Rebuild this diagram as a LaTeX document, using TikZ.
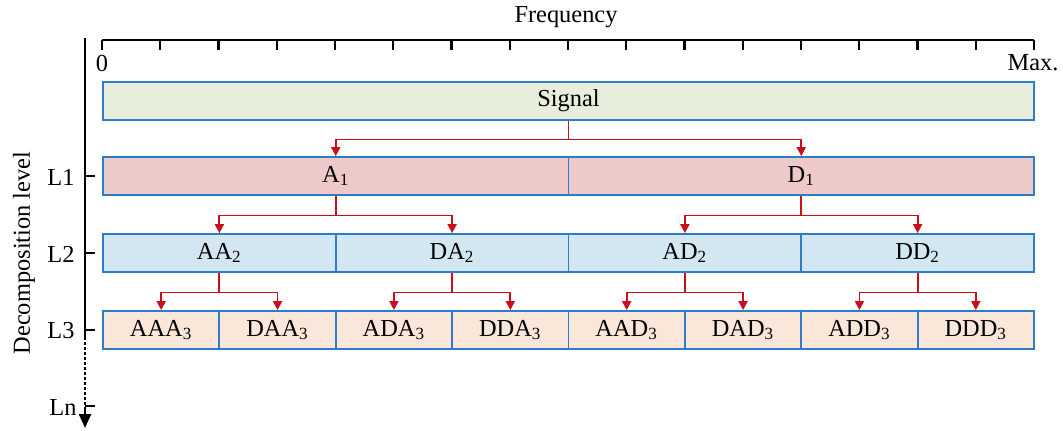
\documentclass[tikz,border=0pt]{standalone}
\usepackage{fontspec}
\setmainfont{Liberation Serif}
\usetikzlibrary{arrows.meta}
\definecolor{bordc}{HTML}{2E7DCB}
\definecolor{sigc}{HTML}{E7EEDB}
\definecolor{lonec}{HTML}{EEC9C9}
\definecolor{ltwoc}{HTML}{D2E7F1}
\definecolor{lthreec}{HTML}{FBE7D9}
\definecolor{arrc}{HTML}{C8101A}
\tikzset{
  band/.style={draw=bordc, line width=0.9pt, rectangle, inner sep=0pt, minimum height=19pt, anchor=center},
  sigbox/.style={band, fill=sigc, minimum width=465.5pt},
  onebox/.style={band, fill=lonec, minimum width=232.75pt},
  twobox/.style={band, fill=ltwoc, minimum width=116.375pt},
  threebox/.style={band, fill=lthreec, minimum width=58.1875pt},
  link/.style={draw=arrc, line width=0.9pt},
  arr/.style={link, -{Triangle[length=4.5pt,width=4.5pt]}},
  axisline/.style={line width=1.1pt, black},
  lvl/.style={anchor=east, inner sep=0pt},
}
\begin{document}
\begin{tikzpicture}[x=0.5pt,y=-0.5pt,font=\fontsize{12.2}{14}\selectfont]
\useasboundingbox (0,0) rectangle (1063,430);
% frequency axis
\node (freq) at (566,17) {Frequency};
\draw[axisline] (102,40) -- (1034,40);
\foreach \k in {0,...,16} {
  \draw[axisline] ({102+\k*58.25},40) -- ({102+\k*58.25},50);
}
\node (zero) at (102,63) {0};
\node (max) at (1033,63) {Max.};
% level axis
\draw[axisline] (85,38) -- (85,337);
\draw[axisline, dash pattern=on 1.5pt off 1pt] (85,337) -- (85,412);
\coordinate (ltop) at (85,410);
\coordinate (lend) at (85,428);
\draw[axisline, -{Triangle[length=7pt,width=6pt]}] (ltop) -- (lend);
\foreach \yy in {176,253,330,406} { \draw[axisline] (85,\yy) -- (95,\yy); }
\node[lvl] (l1) at (75,177) {L1};
\node[lvl] (l2) at (75,254) {L2};
\node[lvl] (l3) at (75,331) {L3};
\node[lvl] (ln) at (77,407) {Ln};
\node[rotate=90] (declab) at (24,253) {Decomposition level};
% boxes
\node[sigbox] (s) at (568.5,101) {Signal};
\node[onebox] (a) at (335.75,176) {A\textsubscript{1}};
\node[onebox] (d) at (801.25,176) {D\textsubscript{1}};
\node[twobox] (aa) at (219.375,253) {AA\textsubscript{2}};
\node[twobox] (da) at (452.125,253) {DA\textsubscript{2}};
\node[twobox] (ad) at (684.875,253) {AD\textsubscript{2}};
\node[twobox] (dd) at (917.625,253) {DD\textsubscript{2}};
\node[threebox] (aaa) at (161.1875,330) {AAA\textsubscript{3}};
\node[threebox] (daa) at (277.5625,330) {DAA\textsubscript{3}};
\node[threebox] (ada) at (393.9375,330) {ADA\textsubscript{3}};
\node[threebox] (dda) at (510.3125,330) {DDA\textsubscript{3}};
\node[threebox] (aad) at (626.6875,330) {AAD\textsubscript{3}};
\node[threebox] (dad) at (743.0625,330) {DAD\textsubscript{3}};
\node[threebox] (add) at (859.4375,330) {ADD\textsubscript{3}};
\node[threebox] (ddd) at (975.8125,330) {DDD\textsubscript{3}};
% connectors
\draw[link] (s.south) -- ++(0,18.5) coordinate (ms);
\draw[arr] (ms) -| (a.north);
\draw[arr] (ms) -| (d.north);
\draw[link] (a.south) -- ++(0,19.5) coordinate (ma);
\draw[arr] (ma) -| (aa.north);
\draw[arr] (ma) -| (da.north);
\draw[link] (d.south) -- ++(0,19.5) coordinate (md);
\draw[arr] (md) -| (ad.north);
\draw[arr] (md) -| (dd.north);
\draw[link] (aa.south) -- ++(0,19.5) coordinate (maa);
\draw[arr] (maa) -| (aaa.north);
\draw[arr] (maa) -| (daa.north);
\draw[link] (da.south) -- ++(0,19.5) coordinate (mda);
\draw[arr] (mda) -| (ada.north);
\draw[arr] (mda) -| (dda.north);
\draw[link] (ad.south) -- ++(0,19.5) coordinate (mad);
\draw[arr] (mad) -| (aad.north);
\draw[arr] (mad) -| (dad.north);
\draw[link] (dd.south) -- ++(0,19.5) coordinate (mdd);
\draw[arr] (mdd) -| (add.north);
\draw[arr] (mdd) -| (ddd.north);
\end{tikzpicture}
\end{document}
